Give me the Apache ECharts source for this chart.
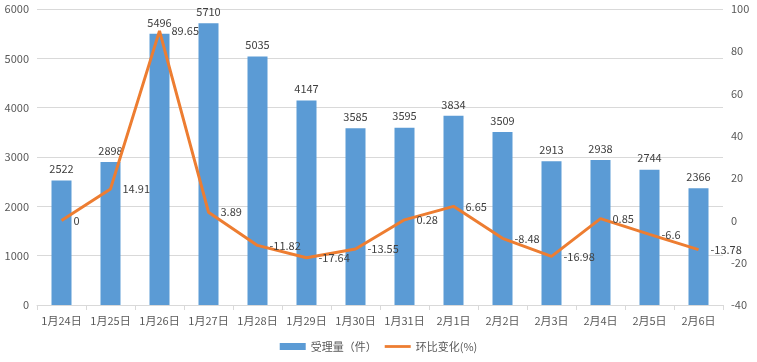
<!DOCTYPE html>
<html><head><meta charset="utf-8">
<script src="https://cdn.jsdelivr.net/npm/echarts@6/dist/echarts.min.js"></script>
<style>html,body{margin:0;padding:0;background:#fff}#c{width:757px;height:362px}</style>
</head><body><div id="c"></div>
<script>
const categories = ['1月24日','1月25日','1月26日','1月27日','1月28日','1月29日','1月30日','1月31日','2月1日','2月2日','2月3日','2月4日','2月5日','2月6日'];
const volume = [2522,2898,5496,5710,5035,4147,3585,3595,3834,3509,2913,2938,2744,2366];
const change = [0,14.91,89.65,3.89,-11.82,-17.64,-13.55,0.28,6.65,-8.48,-16.98,0.85,-6.6,-13.78];
const leftTicks = {min:0,max:6000,interval:1000};
const rightTicks = {min:-40,max:100,interval:20};

const font = '"Noto Sans CJK SC", "Microsoft YaHei", sans-serif';
const chart = echarts.init(document.getElementById('c'));
chart.setOption({
  animation:false,
  textStyle:{fontFamily:font},
  grid:{left:37,right:34,top:9,bottom:57},
  legend:{
    bottom:5,left:'center',itemWidth:26,itemHeight:7,itemGap:8,
    textStyle:{color:'#595959',fontSize:11,fontFamily:font},
    data:[{name:'受理量（件）',icon:'rect'},{name:'环比变化(%)',icon:'path://M0,0L28,0L28,3L0,3Z'}]
  },
  xAxis:{
    type:'category',data:categories,
    axisLine:{lineStyle:{color:'#d9d9d9',width:1}},
    axisTick:{show:true,length:5,lineStyle:{color:'#d9d9d9'}},
    axisLabel:{color:'#595959',fontSize:11,margin:10,interval:0,fontFamily:font}
  },
  yAxis:[
    {type:'value',min:leftTicks.min,max:leftTicks.max,interval:leftTicks.interval,
     axisLine:{show:false},axisTick:{show:false},
     splitLine:{lineStyle:{color:'#d9d9d9'}},
     axisLabel:{color:'#595959',fontSize:11,margin:8,fontFamily:font,formatter:v=>String(v)}},
    {type:'value',min:rightTicks.min,max:rightTicks.max,interval:rightTicks.interval,
     axisLine:{show:false},axisTick:{show:false},splitLine:{show:false},
     axisLabel:{color:'#595959',fontSize:11,margin:8,fontFamily:font,formatter:v=>String(v)}}
  ],
  series:[
    {name:'受理量（件）',type:'bar',data:volume,barWidth:20,
     itemStyle:{color:'#5B9BD5'},
     label:{show:true,position:'top',distance:6,color:'#404040',fontSize:11,fontFamily:font}},
    {name:'环比变化(%)',type:'line',yAxisIndex:1,data:change,symbol:'circle',symbolSize:0.01,showSymbol:true,
     lineStyle:{color:'#ED7D31',width:3},itemStyle:{color:'#ED7D31'},z:5,
     label:{show:true,position:'right',distance:12,color:'#404040',fontSize:11,fontFamily:font}}
  ]
});
</script></body></html>
